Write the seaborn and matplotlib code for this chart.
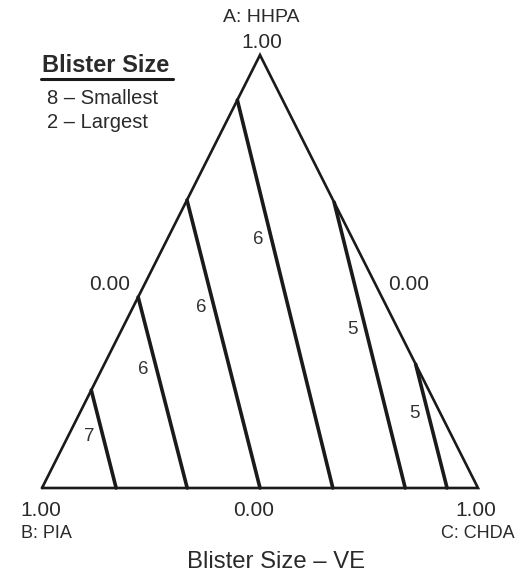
import matplotlib
matplotlib.use("Agg")
import matplotlib.pyplot as plt
from matplotlib.lines import Line2D
import numpy as np
import pandas as pd
import seaborn as sns

# Contour levels of blister size (ASTM D714 scale) on the mixture triangle
levels = [7, 6, 6, 6, 5, 5]
# Where each contour meets the outer edge: "BA" = B–A edge, "AC" = A–C edge,
# given as the A (HHPA) fraction at that point
start_edge = ["BA", "BA", "BA", "BA", "AC", "AC"]
start_a = [0.226, 0.441, 0.665, 0.896, 0.660, 0.286]
# Where each contour meets the B–C base, as the C (CHDA) fraction
end_c = [0.170, 0.333, 0.500, 0.667, 0.833, 0.929]
# Height (A fraction) at which each contour is labelled
label_a = [0.118, 0.273, 0.416, 0.573, 0.365, 0.173]

vertex_names = ["A: HHPA", "B: PIA", "C: CHDA"]
tick_labels = ["1.00", "0.00", "0.00", "1.00", "0.00", "1.00"]


def to_xy(a, c):
    """Mixture fractions -> plane coords (B at (0,0), C at (1,0), A at (0.5,1))."""
    return c + 0.5 * a, a


rows = []
for i, (edge, a0, c1) in enumerate(zip(start_edge, start_a, end_c)):
    c0 = 0.0 if edge == "BA" else 1.0 - a0
    x0, y0 = to_xy(a0, c0)
    x1, y1 = to_xy(0.0, c1)
    rows.append({"line": i, "x": x0, "y": y0})
    rows.append({"line": i, "x": x1, "y": y1})
contours = pd.DataFrame(rows)

outline = pd.DataFrame({
    "x": [to_xy(0, 0)[0], to_xy(0, 1)[0], to_xy(1, 0)[0], to_xy(0, 0)[0]],
    "y": [to_xy(0, 0)[1], to_xy(0, 1)[1], to_xy(1, 0)[1], to_xy(0, 0)[1]],
    "seg": [0, 0, 0, 0],
})

sns.set_theme(style="white")
plt.rcParams["font.family"] = ["Liberation Sans", "DejaVu Sans"]

W, H = 519, 579
fig = plt.figure(figsize=(W / 100, H / 100), dpi=100)
ax = fig.add_axes([0, 0, 1, 1])
ax.set_axis_off()
ax.set_xlim(-42 / 436, (W - 42) / 436)
ax.set_ylim((488 - H) / 433, 488 / 433)

sns.lineplot(data=outline, x="x", y="y", units="seg", estimator=None,
             sort=False, color="#1a1a1a", lw=1.9, ax=ax, legend=False)
ax.lines[-1].set_solid_joinstyle("miter")
sns.lineplot(data=contours, x="x", y="y", units="line", estimator=None,
             sort=False, color="#1a1a1a", lw=2.6, ax=ax, legend=False)

# Contour value labels, set just left of each line
for i, (lev, ya) in enumerate(zip(levels, label_a)):
    seg = contours[contours["line"] == i]
    xs, ys = seg["x"].to_numpy(), seg["y"].to_numpy()
    t = (ys[0] - ya) / (ys[0] - ys[1])
    xl = xs[0] + t * (xs[1] - xs[0])
    ax.text(xl - 0.031, ya, str(lev), ha="center", va="center",
            fontsize=13.5, color="#333333")


def ptext(px, py, s, **kw):
    fig.text(px / W, 1 - py / H, s, ha="center", va="center",
             color="#2a2a2a", **kw)


# Vertex names and edge scale values
ptext(261, 18, vertex_names[0], fontsize=14)
ptext(262, 42, tick_labels[0], fontsize=15)
ptext(110, 285, tick_labels[1], fontsize=15)
ptext(409, 285, tick_labels[2], fontsize=15)
ptext(41, 510, tick_labels[3], fontsize=15)
ptext(254, 510, tick_labels[4], fontsize=15)
ptext(476, 510, tick_labels[5], fontsize=15)
ptext(46, 533, vertex_names[1], fontsize=13)
ptext(478, 533, vertex_names[2], fontsize=13)

# Title
ptext(276, 562, "Blister Size – VE", fontsize=17.2)

# Key for the blister size scale
ptext(106, 66, "Blister Size", fontsize=17, fontweight="bold")
fig.add_artist(Line2D([41 / W, 173 / W], [1 - 79 / H, 1 - 79 / H],
                      transform=fig.transFigure, color="#1a1a1a", lw=2.2))
fig.text(47 / W, 1 - 99 / H, "8 – Smallest", ha="left", va="center",
         fontsize=14.5, color="#2a2a2a")
fig.text(47 / W, 1 - 123 / H, "2 – Largest", ha="left", va="center",
         fontsize=14.5, color="#2a2a2a")

fig.savefig("out.png", dpi=100)
